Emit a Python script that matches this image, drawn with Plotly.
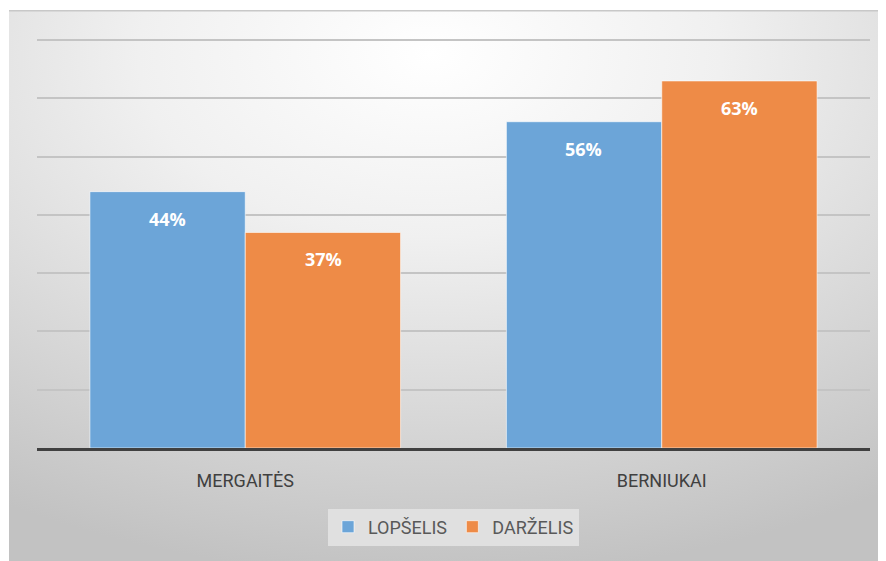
import base64
import plotly.graph_objects as go

categories = ["MERGAITĖS", "BERNIUKAI"]
lopselis = [0.44, 0.56]
darzelis = [0.37, 0.63]
series_names = ["LOPŠELIS", "DARŽELIS"]
colors = ["#6CA5D8", "#EE8B47"]

# page has an 8px body margin, so the figure is 8px smaller than the window
W, H = 878, 553
ml, mr, mt, mb = 29, 16, 31, 113
pw, ph = W - ml - mr, H - mt - mb
fx, fy = 1, 2  # frame top-left

svg = """<svg xmlns='http://www.w3.org/2000/svg' width='877' height='551' viewBox='0 0 877 551' preserveAspectRatio='none'>
<defs><radialGradient id='g' cx='0.48' cy='0.08' r='0.95' fx='0.48' fy='0.08'>
<stop offset='0' stop-color='#ffffff'/><stop offset='0.35' stop-color='#f0f0f0'/><stop offset='1' stop-color='#c2c2c2'/>
</radialGradient></defs>
<rect x='0' y='0' width='877' height='551' fill='url(#g)'/>
<rect x='0' y='0' width='877' height='1.5' fill='#c8c8c8'/>
</svg>"""
src = "data:image/svg+xml;base64," + base64.b64encode(svg.encode()).decode()

fig = go.Figure()
for name, vals, col in zip(series_names, [lopselis, darzelis], colors):
    fig.add_trace(go.Bar(x=categories, y=vals, name=name,
                         marker=dict(color=col, line=dict(width=1, color="rgba(255,255,255,0.6)"))))

font_main = "Roboto"
shifts = [-78, 78]
for vals, xs in zip([lopselis, darzelis], shifts):
    for c, v in zip(categories, vals):
        fig.add_annotation(x=c, y=v, text=f"<b>{round(v*100)}%</b>", showarrow=False,
                           xshift=xs, yshift=-27, font=dict(color="white", size=18, family="Open Sans"))

fig.add_layout_image(dict(source=src, xref="paper", yref="paper",
                          x=(fx - ml) / pw, y=(H - mb - fy) / ph,
                          sizex=(W - fx) / pw, sizey=(H - fy) / ph,
                          sizing="stretch", xanchor="left", yanchor="top", layer="below"))

fig.update_layout(
    width=W, height=H,
    margin=dict(l=ml, r=mr, t=mt, b=mb, pad=0),
    paper_bgcolor="white", plot_bgcolor="rgba(0,0,0,0)",
    barmode="group", bargap=0.254, bargroupgap=0,
    showlegend=True,
    legend=dict(orientation="h", x=0.5, xanchor="center", y=(H - mb - 519) / ph, yanchor="middle",
                bgcolor="#e0e0e0", font=dict(size=18, color="#595959", family=font_main),
                itemwidth=30, tracegroupgap=0),
    xaxis=dict(showline=True, linecolor="#404040", linewidth=3, ticks="outside", ticklen=14,
               tickcolor="rgba(0,0,0,0)", tickfont=dict(size=18, color="#404040", family=font_main),
               showgrid=False),
    yaxis=dict(range=[0, 0.702], dtick=0.1, showticklabels=False, showgrid=True,
               gridcolor="#c4c4c4", gridwidth=2, zeroline=False),
)

fig.write_html("out.html")
